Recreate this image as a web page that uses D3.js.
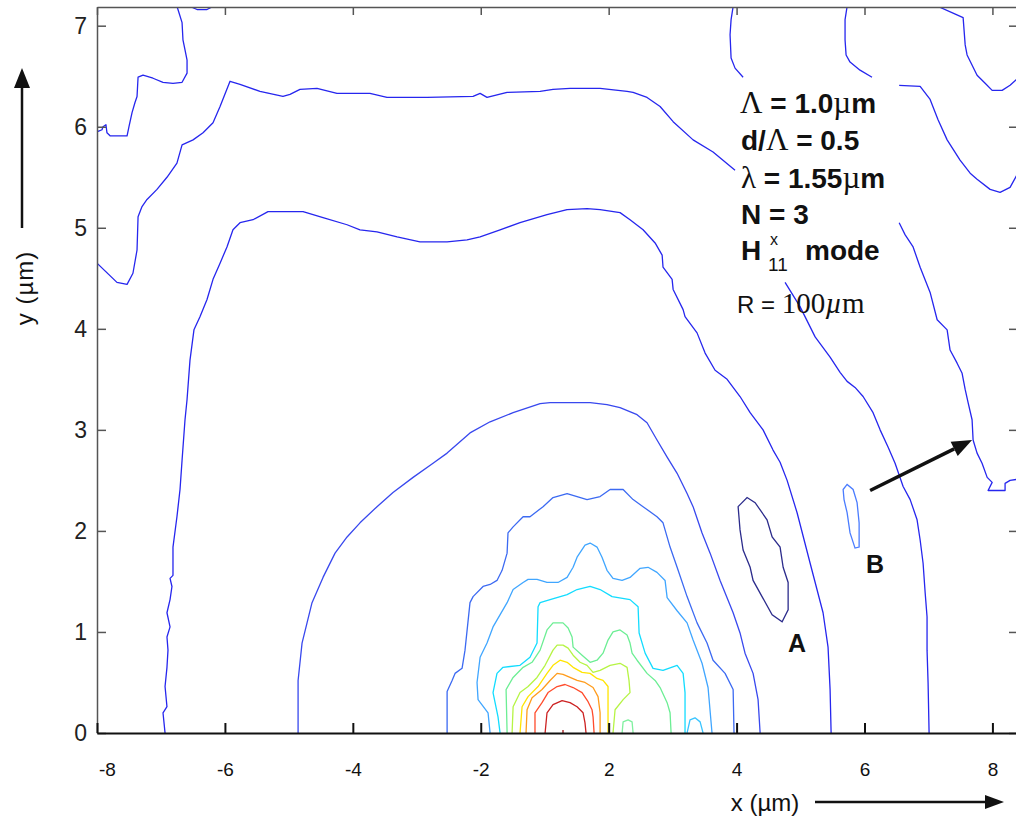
<!DOCTYPE html>
<html>
<head>
<meta charset="utf-8">
<script src="https://cdn.jsdelivr.net/npm/d3@7"></script>
<style>
  html, body { margin: 0; padding: 0; background: #fff; }
  svg { display: block; }
</style>
</head>
<body>
<div id="chart"></div>
<script>
const w = 1016;
const h = 820;

// tick positions; the x labels were pasted onto the figure and are not linear
const xTickValues = [0, 1, 2, 3, 4, 5, 6, 7];
const xTickLabels = ['-8', '-6', '-4', '-2', '2', '4', '6', '8'];
const yTickValues = [0, 1, 2, 3, 4, 5, 6, 7];

// contour lines, [x, y] in plot units
const outerTopLeft = [[0.625,7.19],[0.633,7.16],[0.665,7.03],[0.672,6.86],[0.688,6.76],[0.704,6.66],[0.704,6.53],[0.665,6.44],[0.594,6.43],[0.516,6.44],[0.438,6.48],[0.360,6.51],[0.321,6.49],[0.313,6.30],[0.297,6.24],[0.274,6.14],[0.250,6.00],[0.235,5.91],[0.102,5.91],[0.078,5.94],[0.070,6.02],[0.047,6.00],[0.039,5.97],[0,5.95]];
const outerTopNotch = [[0.727,7.19],[0.782,7.16],[0.860,7.16],[0.907,7.19]];
const outerTopRight = [[4.973,7.19],[4.957,7.06],[4.949,6.91],[4.957,6.68],[4.988,6.58],[5.051,6.49]];
const outerRight = [[6.271,5.05],[6.318,4.93],[6.380,4.81],[6.435,4.61],[6.513,4.36],[6.568,4.09],[6.646,3.99],[6.669,3.79],[6.724,3.66],[6.763,3.56],[6.787,3.40],[6.810,3.27],[6.841,3.10],[6.849,2.90],[6.880,2.77],[6.919,2.67],[6.959,2.53],[6.998,2.48],[6.966,2.40],[7.099,2.40],[7.099,2.47],[7.138,2.50],[7.19,2.51]];
const outerCorner = [[6.575,7.19],[6.701,7.12],[6.771,7.08],[6.787,6.81],[6.802,6.71],[6.880,6.51],[6.943,6.43],[6.998,6.36],[7.076,6.36],[7.138,6.41],[7.19,6.47]];
const secondTopRight = [[5.864,7.19],[5.848,7.06],[5.848,6.86],[5.856,6.71],[5.887,6.64],[5.965,6.56],[6.059,6.49]];
const secondRight = [[6.271,6.41],[6.435,6.40],[6.513,6.27],[6.575,6.07],[6.646,5.87],[6.747,5.67],[6.826,5.54],[6.880,5.48],[6.982,5.38],[7.060,5.35],[7.138,5.40],[7.19,5.52]];
const secondTop = [[0,4.65],[0.156,4.46],[0.235,4.44],[0.281,4.55],[0.313,4.78],[0.321,5.11],[0.352,5.21],[0.391,5.28],[0.469,5.38],[0.547,5.50],[0.625,5.64],[0.665,5.82],[0.751,5.87],[0.829,5.94],[0.907,6.04],[0.962,6.20],[1.040,6.45],[1.118,6.42],[1.274,6.35],[1.454,6.30],[1.509,6.32],[1.587,6.37],[1.720,6.38],[1.876,6.33],[2.134,6.33],[2.267,6.29],[2.580,6.29],[2.940,6.30],[2.995,6.33],[3.049,6.29],[3.206,6.34],[3.464,6.35],[3.565,6.37],[3.698,6.38],[3.933,6.38],[4.144,6.35],[4.191,6.34],[4.300,6.29],[4.402,6.20],[4.504,6.05],[4.660,5.87],[4.816,5.75],[4.988,5.57]];
const secondDown = [[5.379,4.46],[5.496,4.22],[5.614,3.92],[5.731,3.72],[5.809,3.57],[5.864,3.48],[5.926,3.42],[5.989,3.33],[6.067,3.17],[6.122,3.00],[6.184,2.83],[6.239,2.67],[6.302,2.44],[6.357,2.31],[6.411,2.11],[6.435,1.91],[6.458,1.68],[6.474,1.39],[6.489,1.15],[6.489,0.82],[6.497,0.50],[6.505,0]];
const thirdLevel = [[0.532,0],[0.516,0.20],[0.547,0.26],[0.532,0.46],[0.547,0.65],[0.555,0.82],[0.547,0.95],[0.571,1.05],[0.547,1.19],[0.571,1.32],[0.586,1.45],[0.571,1.53],[0.594,1.56],[0.594,1.84],[0.625,2.14],[0.649,2.41],[0.665,2.70],[0.688,3.10],[0.704,3.30],[0.727,3.69],[0.758,3.99],[0.805,4.12],[0.860,4.29],[0.907,4.49],[0.962,4.65],[1.016,4.81],[1.063,4.98],[1.118,5.05],[1.220,5.08],[1.337,5.16],[1.611,5.16],[1.767,5.10],[1.955,5.03],[2.056,4.98],[2.189,4.96],[2.346,4.91],[2.525,4.86],[2.737,4.86],[2.893,4.88],[2.995,4.91],[3.151,4.98],[3.307,5.05],[3.518,5.13],[3.675,5.18],[3.831,5.19],[3.933,5.18],[4.089,5.15],[4.167,5.08],[4.269,4.98],[4.363,4.85],[4.418,4.73],[4.425,4.61],[4.496,4.49],[4.504,4.39],[4.582,4.19],[4.597,4.12],[4.691,3.96],[4.754,3.76],[4.832,3.59],[4.926,3.50],[5.027,3.33],[5.106,3.17],[5.207,3.00],[5.285,2.80],[5.340,2.68],[5.395,2.50],[5.473,2.18],[5.575,1.68],[5.676,1.19],[5.715,0.85],[5.731,0.43],[5.739,0]];
const fourthLevel = [[1.572,0],[1.572,0.52],[1.603,0.89],[1.642,1.09],[1.681,1.29],[1.767,1.54],[1.861,1.78],[1.955,1.94],[2.056,2.08],[2.189,2.24],[2.314,2.38],[2.471,2.53],[2.627,2.67],[2.737,2.77],[2.916,2.97],[3.073,3.08],[3.253,3.17],[3.464,3.26],[3.542,3.27],[3.855,3.27],[3.987,3.25],[4.089,3.22],[4.222,3.15],[4.300,3.07],[4.378,2.90],[4.457,2.73],[4.535,2.57],[4.613,2.37],[4.660,2.24],[4.730,1.98],[4.793,1.78],[4.871,1.51],[4.973,1.19],[5.027,0.99],[5.066,0.79],[5.129,0.59],[5.168,0.33],[5.184,0]];
const fifthLevel = [[2.737,0],[2.737,0.41],[2.776,0.52],[2.799,0.59],[2.854,0.64],[2.877,0.82],[2.916,1.29],[2.940,1.35],[3.018,1.45],[3.073,1.47],[3.127,1.51],[3.167,1.61],[3.206,1.78],[3.213,1.98],[3.253,2.04],[3.331,2.14],[3.385,2.14],[3.487,2.24],[3.565,2.33],[3.675,2.37],[3.831,2.31],[3.933,2.34],[4.011,2.41],[4.113,2.41],[4.191,2.31],[4.269,2.24],[4.378,2.14],[4.425,2.08],[4.480,1.84],[4.535,1.64],[4.613,1.35],[4.691,1.09],[4.769,0.89],[4.816,0.72],[4.910,0.59],[4.973,0.43],[4.980,0]];
const lightBlueLevel = [[3.073,0],[3.057,0.20],[2.979,0.33],[2.971,0.50],[2.995,0.75],[3.049,0.89],[3.096,1.05],[3.206,1.29],[3.253,1.42],[3.331,1.49],[3.370,1.52],[3.440,1.52],[3.518,1.49],[3.604,1.49],[3.675,1.54],[3.722,1.64],[3.753,1.74],[3.815,1.86],[3.855,1.88],[3.909,1.84],[3.948,1.74],[3.987,1.61],[4.034,1.53],[4.105,1.51],[4.167,1.54],[4.246,1.63],[4.308,1.64],[4.378,1.59],[4.441,1.51],[4.457,1.34],[4.535,1.21],[4.613,1.09],[4.660,0.92],[4.730,0.69],[4.777,0.45],[4.808,0]];
const cyanLevel = [[3.151,0],[3.135,0.16],[3.096,0.40],[3.127,0.59],[3.174,0.65],[3.307,0.67],[3.385,0.75],[3.440,0.89],[3.448,1.25],[3.464,1.29],[3.542,1.32],[3.675,1.37],[3.753,1.42],[3.855,1.45],[3.933,1.42],[4.027,1.35],[4.167,1.32],[4.230,1.25],[4.238,0.99],[4.285,0.79],[4.347,0.64],[4.425,0.62],[4.535,0.67],[4.582,0.59],[4.597,0.40],[4.597,0]];
const cyanArch = [[4.613,0],[4.636,0.13],[4.675,0.15],[4.715,0.11],[4.738,0]];
const greenLevel = [[3.206,0],[3.198,0.43],[3.253,0.55],[3.331,0.65],[3.401,0.70],[3.464,0.82],[3.518,1.02],[3.565,1.09],[3.643,1.09],[3.683,1.04],[3.714,0.95],[3.722,0.85],[3.792,0.77],[3.855,0.70],[3.909,0.72],[3.956,0.79],[3.995,0.92],[4.034,1.00],[4.089,1.02],[4.144,0.97],[4.167,0.89],[4.183,0.79],[4.222,0.72],[4.300,0.59],[4.363,0.52],[4.402,0.45],[4.457,0.30],[4.480,0.20],[4.488,0]];
const greenArch = [[4.105,0],[4.113,0.11],[4.152,0.13],[4.183,0.11],[4.191,0]];
const limeLevel = [[3.245,0],[3.253,0.26],[3.307,0.40],[3.370,0.46],[3.440,0.55],[3.503,0.67],[3.565,0.82],[3.597,0.87],[3.643,0.87],[3.683,0.84],[3.722,0.77],[3.776,0.70],[3.831,0.67],[3.878,0.60],[3.933,0.62],[4.011,0.67],[4.089,0.69],[4.144,0.65],[4.159,0.52],[4.167,0.40],[4.113,0.33],[4.050,0.23],[4.034,0]];
const yellowLevel = [[3.307,0],[3.323,0.26],[3.370,0.36],[3.448,0.46],[3.518,0.59],[3.565,0.67],[3.620,0.72],[3.675,0.70],[3.722,0.65],[3.792,0.60],[3.855,0.59],[3.909,0.54],[3.956,0.52],[3.995,0.46],[3.995,0]];
const orangeLevel = [[3.354,0],[3.362,0.23],[3.401,0.35],[3.479,0.43],[3.542,0.52],[3.597,0.59],[3.643,0.58],[3.698,0.55],[3.753,0.52],[3.815,0.50],[3.878,0.45],[3.917,0.36],[3.933,0.20],[3.933,0]];
const redOrangeLevel = [[3.424,0],[3.424,0.20],[3.479,0.30],[3.526,0.40],[3.597,0.46],[3.659,0.48],[3.722,0.45],[3.792,0.40],[3.839,0.31],[3.870,0.23],[3.878,0.16],[3.886,0]];
const redLevel = [[3.503,0],[3.518,0.20],[3.565,0.28],[3.636,0.32],[3.698,0.30],[3.753,0.26],[3.800,0.20],[3.815,0.10],[3.823,0]];
const peakLevel = [[3.643,0],[3.643,0.03]];
const loopA = [[5.012,2.24],[5.082,2.33],[5.145,2.28],[5.238,2.11],[5.278,1.94],[5.340,1.84],[5.364,1.64],[5.403,1.49],[5.403,1.22],[5.356,1.10],[5.278,1.17],[5.199,1.35],[5.129,1.51],[5.106,1.64],[5.051,1.81],[5.027,2.01]];
const loopB = [[5.833,2.41],[5.864,2.46],[5.911,2.41],[5.942,2.28],[5.958,2.08],[5.958,1.84],[5.926,1.83],[5.887,1.98],[5.864,2.18],[5.840,2.31]];

// annotation points, plot units
const arrowFrom = [6.044, 2.40];
const arrowTo = [6.841, 2.90];
const labelA = [5.473, 0.80];
const labelB = [6.083, 1.58];

const contours = [
  { pts: outerTopLeft, color: '#2626ee' },
  { pts: outerTopNotch, color: '#2626ee' },
  { pts: outerTopRight, color: '#2626ee' },
  { pts: outerRight, color: '#2626ee' },
  { pts: outerCorner, color: '#2626ee' },
  { pts: secondTopRight, color: '#2626ee' },
  { pts: secondRight, color: '#2626ee' },
  { pts: secondTop, color: '#2626ee' },
  { pts: secondDown, color: '#2626ee' },
  { pts: thirdLevel, color: '#2626ee' },
  { pts: fourthLevel, color: '#3848ee' },
  { pts: fifthLevel, color: '#3c6af2' },
  { pts: lightBlueLevel, color: '#40a6ff' },
  { pts: cyanLevel, color: '#12dcff' },
  { pts: cyanArch, color: '#38c4ff' },
  { pts: greenLevel, color: '#6cee94' },
  { pts: greenArch, color: '#80f0a0' },
  { pts: limeLevel, color: '#b6f444' },
  { pts: yellowLevel, color: '#ffe400' },
  { pts: orangeLevel, color: '#ff9c1c' },
  { pts: redOrangeLevel, color: '#ff4c2c' },
  { pts: redLevel, color: '#cc2222' },
  { pts: peakLevel, color: '#a01010' }
];
const loops = [
  { pts: loopA, color: '#2c2c8c' },
  { pts: loopB, color: '#4a7cff' }
];

const plotLeft = 97, plotTop = 7, plotRight = 1018, plotBottom = 733;
const x = d3.scaleLinear().domain([0, 7.2]).range([plotLeft, plotRight]);
const y = d3.scaleLinear().domain([0, 7.185]).range([plotBottom, plotTop]);

const svg = d3.select('#chart')
  .append('svg')
  .attr('width', w)
  .attr('height', h)
  .style('font-family', '"Liberation Sans", Arial, sans-serif');

svg.append('defs').append('clipPath')
  .attr('id', 'plot-clip')
  .append('rect')
  .attr('x', plotLeft).attr('y', plotTop)
  .attr('width', plotRight - plotLeft).attr('height', plotBottom - plotTop);

const line = d3.line().x(d => x(d[0])).y(d => y(d[1]));
const loopLine = d3.line().x(d => x(d[0])).y(d => y(d[1])).curve(d3.curveLinearClosed);

const plot = svg.append('g').attr('clip-path', 'url(#plot-clip)');

plot.selectAll('path.contour')
  .data(contours)
  .enter()
  .append('path')
  .attr('class', 'contour')
  .attr('d', d => line(d.pts))
  .attr('fill', 'none')
  .attr('stroke', d => d.color)
  .attr('stroke-width', 1.3)
  .attr('stroke-linejoin', 'round');

plot.selectAll('path.loop')
  .data(loops)
  .enter()
  .append('path')
  .attr('class', 'loop')
  .attr('d', d => loopLine(d.pts))
  .attr('fill', 'none')
  .attr('stroke', d => d.color)
  .attr('stroke-width', 1.3);

// axes, ticks pointing inward
svg.append('g')
  .attr('transform', `translate(0,${plotTop})`)
  .call(d3.axisTop(x).tickValues(xTickValues).tickSizeInner(-8).tickSizeOuter(0).tickFormat(''))
  .call(g => g.selectAll('path,line').attr('stroke', '#555').attr('stroke-width', 1.5));

svg.append('g')
  .attr('transform', `translate(${plotRight},0)`)
  .call(d3.axisRight(y).tickValues(yTickValues).tickSizeInner(-9).tickSizeOuter(0).tickFormat(''))
  .call(g => g.selectAll('path,line').attr('stroke', '#555').attr('stroke-width', 1.5));

svg.append('g')
  .attr('transform', `translate(${plotLeft},0)`)
  .call(d3.axisLeft(y).tickValues(yTickValues).tickSizeInner(-9).tickSizeOuter(0).tickPadding(10).tickFormat(d3.format('d')))
  .call(g => g.selectAll('path,line').attr('stroke', '#555').attr('stroke-width', 1.5))
  .call(g => g.selectAll('text').attr('font-size', 23).attr('fill', '#222')
    .attr('font-family', '"Liberation Sans", Arial, sans-serif'));

svg.append('g')
  .attr('transform', `translate(0,${plotBottom})`)
  .call(d3.axisBottom(x).tickValues(xTickValues).tickSizeInner(-10).tickSizeOuter(0).tickPadding(30)
    .tickFormat((d, i) => xTickLabels[i]))
  .call(g => g.selectAll('path,line').attr('stroke', '#111').attr('stroke-width', 2))
  .call(g => g.selectAll('text').attr('font-size', 19).attr('fill', '#111')
    .attr('font-family', '"Liberation Sans Narrow", "Liberation Sans", Arial, sans-serif')
    .attr('dx', (d, i) => i === 0 ? 10 : 0));

// axis titles and arrows
svg.append('text')
  .attr('transform', 'translate(33,288) rotate(-90)')
  .attr('text-anchor', 'middle')
  .attr('font-size', 24)
  .attr('letter-spacing', 1)
  .attr('fill', '#111')
  .text('y (µm)');

svg.append('line')
  .attr('x1', 22).attr('y1', 228).attr('x2', 22).attr('y2', 84)
  .attr('stroke', '#111').attr('stroke-width', 2.5);
svg.append('path')
  .attr('d', 'M22,68L14,88L30,88Z')
  .attr('fill', '#111');

svg.append('text')
  .attr('x', 765).attr('y', 811)
  .attr('text-anchor', 'middle')
  .attr('font-size', 24)
  .attr('fill', '#111')
  .text('x (µm)');

svg.append('line')
  .attr('x1', 815).attr('y1', 802).attr('x2', 988).attr('y2', 802)
  .attr('stroke', '#111').attr('stroke-width', 2.5);
svg.append('path')
  .attr('d', 'M1004,802L985,795L985,809Z')
  .attr('fill', '#111');

// parameter block
const serif = '"Liberation Serif", "Times New Roman", serif';
const block = svg.append('g').attr('fill', '#111').attr('font-weight', 'bold').attr('font-size', 28);

const t1 = block.append('text').attr('x', 740).attr('y', 113);
t1.append('tspan').attr('font-family', serif).attr('font-weight', 'normal').attr('font-size', 31).text('Λ');
t1.append('tspan').text(' = 1.0');
t1.append('tspan').attr('font-family', serif).attr('font-weight', 'normal').attr('font-size', 31).text('µ');
t1.append('tspan').text('m');

const t2 = block.append('text').attr('x', 741).attr('y', 150);
t2.append('tspan').text('d/');
t2.append('tspan').attr('font-family', serif).attr('font-weight', 'normal').attr('font-size', 31).text('Λ');
t2.append('tspan').text(' = 0.5');

const t3 = block.append('text').attr('x', 741).attr('y', 188);
t3.append('tspan').attr('font-family', serif).attr('font-weight', 'normal').attr('font-size', 31).text('λ');
t3.append('tspan').text(' = 1.55');
t3.append('tspan').attr('font-family', serif).attr('font-weight', 'normal').attr('font-size', 31).text('µ');
t3.append('tspan').text('m');

block.append('text').attr('x', 741).attr('y', 224).text('N = 3');

block.append('text').attr('x', 741).attr('y', 260).text('H');
block.append('text').attr('x', 770).attr('y', 245).attr('font-weight', 'normal').attr('font-size', 16).text('x');
block.append('text').attr('x', 768).attr('y', 271).attr('font-weight', 'normal').attr('font-size', 19).text('11');
block.append('text').attr('x', 805).attr('y', 260).text('mode');

const t6 = svg.append('text').attr('x', 737).attr('y', 313).attr('fill', '#111').attr('font-size', 24);
t6.append('tspan').text('R = ');
t6.append('tspan').attr('font-family', serif).attr('font-size', 29).text('100');
t6.append('tspan').attr('font-family', serif).attr('font-style', 'italic').attr('font-size', 29).text('µ');
t6.append('tspan').attr('font-family', serif).attr('font-size', 29).text('m');

// A / B markers and arrow
svg.append('text')
  .attr('x', x(labelA[0])).attr('y', y(labelA[1]))
  .attr('text-anchor', 'middle').attr('font-size', 25).attr('font-weight', 'bold').attr('fill', '#111')
  .text('A');
svg.append('text')
  .attr('x', x(labelB[0])).attr('y', y(labelB[1]))
  .attr('text-anchor', 'middle').attr('font-size', 25).attr('font-weight', 'bold').attr('fill', '#111')
  .text('B');

const ax1 = x(arrowFrom[0]), ay1 = y(arrowFrom[1]);
const ax2 = x(arrowTo[0]), ay2 = y(arrowTo[1]);
const ang = Math.atan2(ay2 - ay1, ax2 - ax1);
const headLen = 20, headHalf = 8;
const bx = ax2 - headLen * Math.cos(ang), by = ay2 - headLen * Math.sin(ang);
svg.append('line')
  .attr('x1', ax1).attr('y1', ay1).attr('x2', bx).attr('y2', by)
  .attr('stroke', '#111').attr('stroke-width', 3.5);
svg.append('path')
  .attr('d', `M${ax2},${ay2}L${bx - headHalf * Math.sin(ang)},${by + headHalf * Math.cos(ang)}L${bx + headHalf * Math.sin(ang)},${by - headHalf * Math.cos(ang)}Z`)
  .attr('fill', '#111');
</script>
</body>
</html>
